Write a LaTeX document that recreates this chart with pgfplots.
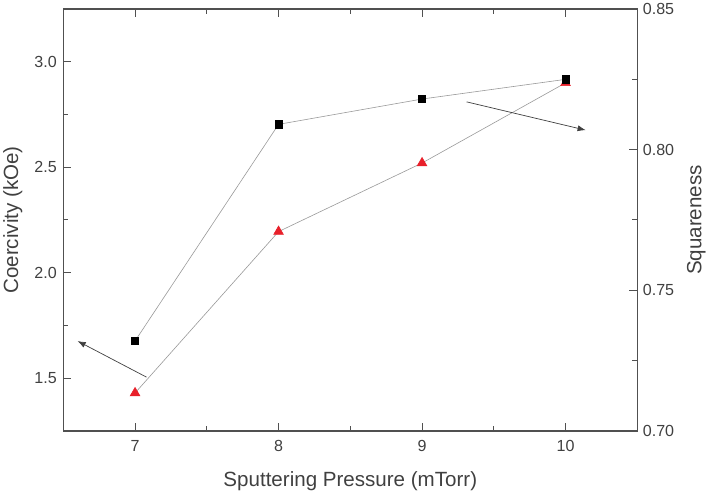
\documentclass[border=0pt]{standalone}
\usepackage{pgfplots}
\pgfplotsset{compat=1.18}
\usetikzlibrary{arrows.meta}
\usepackage{fontspec}
\setmainfont{Liberation Sans}
\definecolor{axisgray}{HTML}{505050}
\definecolor{textgray}{HTML}{404040}
\definecolor{linegray}{HTML}{999999}
\definecolor{arrowgray}{HTML}{404040}
\definecolor{markred}{HTML}{E8202A}

\begin{document}
\begin{tikzpicture}[x=1bp,y=1bp]
\pgfplotsset{
  common/.style={
    scale only axis, width=570bp, height=419bp,
    xmin=6.5, xmax=10.5,
    tick align=inside,
    major tick length=8bp, minor tick length=5bp,
    major tick style={axisgray, line width=1pt},
    minor tick style={axisgray, line width=1pt},
    axis line style={axisgray, line width=1.3pt},
    tick label style={font=\fontsize{16}{18}\selectfont, textgray},
    label style={font=\fontsize{20.5}{24}\selectfont, textgray},
    /pgf/number format/assume math mode=true,
  },
}
% Coercivity on the left axis
\begin{axis}[common,
  ymin=1.25, ymax=3.25,
  xtick={7,8,9,10}, minor x tick num=1, xtick pos=both,
  ytick={1.5,2.0,2.5,3.0}, minor y tick num=1, ytick pos=left,
  yticklabel style={xshift=-3bp, /pgf/number format/.cd, fixed, fixed zerofill, precision=1},
  xticklabel style={yshift=-6bp},
  xlabel={Sputtering Pressure (mTorr)},
  ylabel={Coercivity (kOe)},
  xlabel style={yshift=-13bp},
  ylabel style={yshift=5bp},
]
\addplot[linegray, line width=0.6pt, mark=triangle*, mark size=5.5bp,
  mark options={markred, draw=markred, solid}]
  coordinates {(7,1.43) (8,2.195) (9,2.52) (10,2.90)};
% arrow pointing towards the coercivity axis
\draw[arrowgray, line width=0.7pt, -{Latex[length=8bp,width=6bp]}] (axis cs:7.08,1.505) -- (axis cs:6.6,1.676);
% arrow pointing towards the squareness axis
\draw[arrowgray, line width=0.7pt, -{Latex[length=8bp,width=6bp]}] (axis cs:9.31,2.81) -- (axis cs:10.14,2.676);
\end{axis}
% Squareness on the right axis
\begin{axis}[common,
  ymin=0.70, ymax=0.85,
  axis x line=none,
  axis y line*=right,
  ytick={0.70,0.75,0.80,0.85}, minor y tick num=1,
  yticklabel style={xshift=2bp, /pgf/number format/.cd, fixed, fixed zerofill, precision=2},
  ylabel={Squareness},
  ylabel style={yshift=-6bp},
]
\addplot[linegray, line width=0.6pt, mark=square*, mark size=3.6bp,
  mark options={black, solid}]
  coordinates {(7,0.732) (8,0.809) (9,0.818) (10,0.825)};
\end{axis}
\end{tikzpicture}
\end{document}
